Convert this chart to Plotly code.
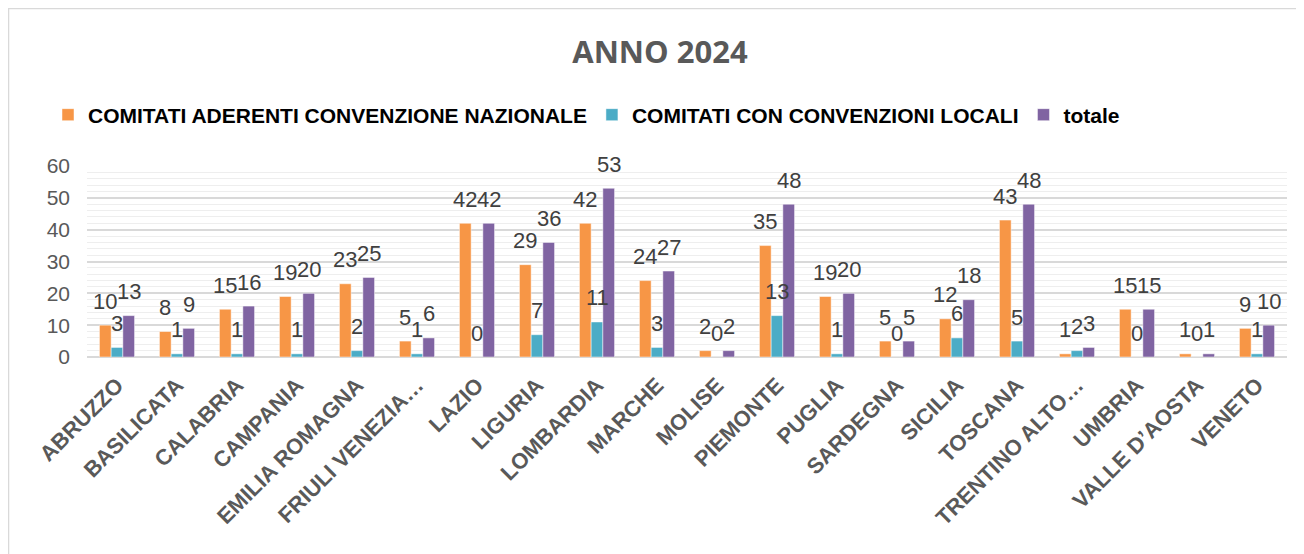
import plotly.graph_objects as go

categories = ["ABRUZZO", "BASILICATA", "CALABRIA", "CAMPANIA", "EMILIA ROMAGNA",
              "FRIULI VENEZIA…", "LAZIO", "LIGURIA", "LOMBARDIA", "MARCHE", "MOLISE",
              "PIEMONTE", "PUGLIA", "SARDEGNA", "SICILIA", "TOSCANA", "TRENTINO ALTO…",
              "UMBRIA", "VALLE D’AOSTA", "VENETO"]
nazionale = [10, 8, 15, 19, 23, 5, 42, 29, 42, 24, 2, 35, 19, 5, 12, 43, 1, 15, 1, 9]
locali = [3, 1, 1, 1, 2, 1, 0, 7, 11, 3, 0, 13, 1, 0, 6, 5, 2, 0, 0, 1]
totale = [13, 9, 16, 20, 25, 6, 42, 36, 53, 27, 2, 48, 20, 5, 18, 48, 3, 15, 1, 10]

series = [
    ("COMITATI ADERENTI CONVENZIONE NAZIONALE", nazionale, "#F79646"),
    ("COMITATI CON CONVENZIONI LOCALI", locali, "#4BACC6"),
    ("totale", totale, "#8064A2"),
]

fig = go.Figure()
for name, vals, col in series:
    fig.add_trace(go.Bar(
        x=categories, y=vals, name="<b>" + name + "</b>",
        marker=dict(color=col, line=dict(color="rgba(255,255,255,0.6)", width=0.8)),
        hoverinfo="skip",
    ))

offsets = [-11.7, 0, 11.7]
annotations = []
for (name, vals, col), off in zip(series, offsets):
    for c, v in zip(categories, vals):
        annotations.append(dict(
            x=c, y=v, xref="x", yref="y", text=str(v), showarrow=False,
            xshift=off, yshift=24, yanchor="middle", xanchor="center",
            font=dict(family="Liberation Sans, Arial", size=22, color="#404040"),
        ))

W, H = 1296, 546
fig.update_layout(
    width=W, height=H,
    margin=dict(l=79, r=17, t=158, b=197, pad=0),
    paper_bgcolor="white", plot_bgcolor="white",
    barmode="group", bargap=0.415, bargroupgap=0,
    title=dict(text="<b>ANNO 2024</b>", x=0.4775, xref="paper", xanchor="center",
               y=1 - 44 / H, yref="container", yanchor="middle",
               font=dict(family="Open Sans, Noto Sans", size=31, color="#595959")),
    legend=dict(orientation="h", x=-0.0325, xanchor="left", y=1.267, yanchor="middle",
                font=dict(family="Liberation Sans, Arial", size=21, color="#000000"),
                itemwidth=30, traceorder="normal", bgcolor="rgba(0,0,0,0)"),
    annotations=annotations,
    showlegend=True,
    shapes=[dict(type="rect", xref="paper", yref="paper", x0=-0.0654, x1=1.2,
                 y0=-1.5, y1=1.8246, line=dict(color="#d9d9d9", width=1.5),
                 fillcolor="rgba(0,0,0,0)", layer="below")],
)

fig.update_yaxes(range=[0, 60], dtick=10, showgrid=True, gridcolor="#d9d9d9", gridwidth=1.5,
                 zeroline=True, zerolinecolor="#d9d9d9", zerolinewidth=1.5,
                 minor=dict(dtick=2, showgrid=True, gridcolor="#eeeeee", gridwidth=1),
                 tickfont=dict(family="Liberation Sans, Arial", size=21, color="#595959"),
                 ticklabelstandoff=16, fixedrange=True)
fig.update_xaxes(tickangle=-45, showgrid=False, showline=False,
                 tickvals=categories, ticktext=["<b>" + c + "</b>" for c in categories],
                 tickfont=dict(family="Liberation Sans, Arial", size=22, color="#595959"),
                 ticklabelstandoff=10, fixedrange=True)

fig.write_html("out.html")
